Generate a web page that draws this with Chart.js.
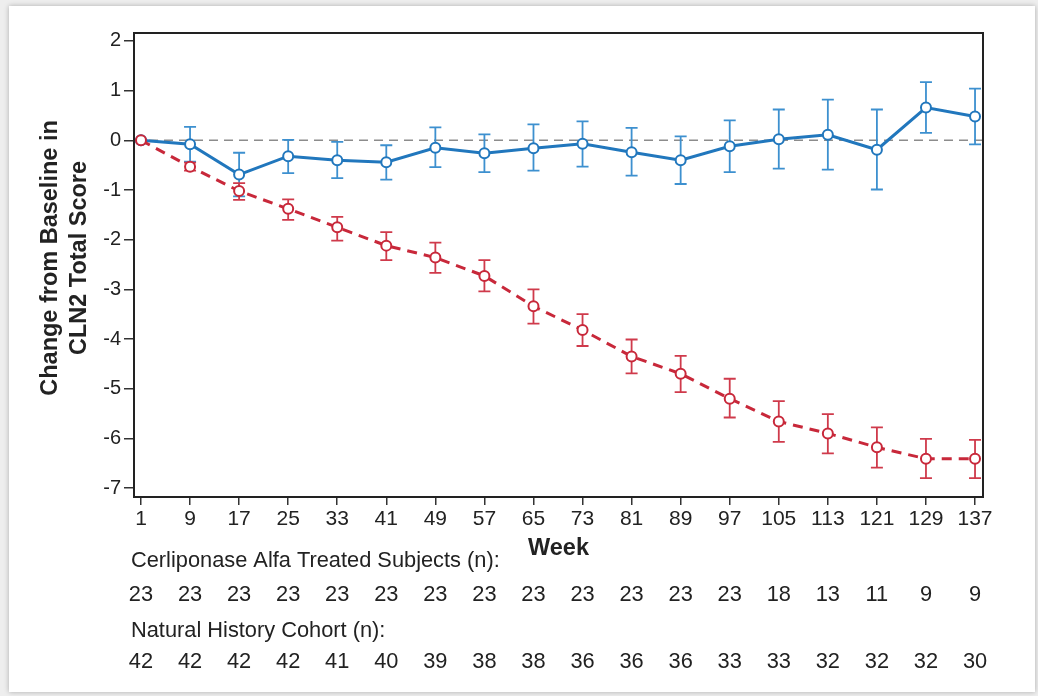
<!DOCTYPE html>
<html><head><meta charset="utf-8">
<script src="https://cdn.jsdelivr.net/npm/chart.js@4.4.1/dist/chart.umd.min.js"></script>
<style>
html,body{margin:0;padding:0;background:#eeeeee;width:1038px;height:696px;overflow:hidden;}
#card{position:absolute;left:9px;top:6px;width:1026px;height:686px;background:#fff;box-shadow:0 0 5px rgba(0,0,0,0.28);}
#wrap{position:absolute;left:0;top:0;width:1038px;height:696px;}
</style></head><body>
<div id="card"></div>
<div id="wrap"><canvas id="c" width="1038" height="696"></canvas></div>
<script>
const weeks = [1,9,17,25,33,41,49,57,65,73,81,89,97,105,113,121,129,137];
const yTickValues = [-7,-6,-5,-4,-3,-2,-1,0,1,2];

const treatedMean  = [0,-0.08,-0.69,-0.32,-0.40,-0.44,-0.15,-0.26,-0.16,-0.07,-0.24,-0.40,-0.12,0.02,0.11,-0.19,0.66,0.48];
const treatedLower = [null,-0.43,-1.13,-0.66,-0.76,-0.79,-0.54,-0.64,-0.61,-0.53,-0.71,-0.88,-0.64,-0.57,-0.59,-0.99,0.15,-0.08];
const treatedUpper = [null,0.27,-0.25,0.01,-0.03,-0.10,0.26,0.12,0.32,0.38,0.25,0.08,0.40,0.62,0.82,0.62,1.17,1.04];

const naturalMean  = [0,-0.53,-1.02,-1.38,-1.75,-2.12,-2.36,-2.73,-3.34,-3.82,-4.35,-4.70,-5.20,-5.66,-5.90,-6.18,-6.41,-6.41];
const naturalLower = [null,-0.61,-1.20,-1.60,-2.02,-2.41,-2.67,-3.04,-3.69,-4.14,-4.69,-5.07,-5.58,-6.07,-6.30,-6.59,-6.80,-6.80];
const naturalUpper = [null,-0.45,-0.86,-1.19,-1.54,-1.85,-2.06,-2.41,-3.00,-3.50,-4.01,-4.34,-4.80,-5.25,-5.51,-5.78,-6.01,-6.03];

const treatedN = [23,23,23,23,23,23,23,23,23,23,23,23,23,18,13,11,9,9];
const naturalN = [42,42,42,42,41,40,39,38,38,36,36,36,33,33,32,32,32,30];

const treatedLabel = 'Cerliponase Alfa Treated Subjects (n):';
const naturalLabel = 'Natural History Cohort (n):';
const yTitle = ['Change from Baseline in', 'CLN2 Total Score'];
const xTitle = 'Week';

const FONT = '"Liberation Sans", Arial, sans-serif';
const TXT = '#222222';

const toPts = (m) => weeks.map((w,i) => ({x: w, y: m[i]}));

const errorBars = {
  id: 'errorBars',
  beforeDatasetDraw(chart, args) {
    const ds = chart.data.datasets[args.index];
    if (!ds.errLow) return;
    const {ctx, scales: {x, y}} = chart;
    ctx.save();
    ctx.strokeStyle = ds.errColor;
    ctx.lineWidth = ds.errWidth;
    ctx.setLineDash([]);
    weeks.forEach((w, i) => {
      if (ds.errLow[i] == null) return;
      const px = x.getPixelForValue(w);
      const pl = y.getPixelForValue(ds.errLow[i]);
      const ph = y.getPixelForValue(ds.errHigh[i]);
      ctx.beginPath();
      ctx.moveTo(px, pl); ctx.lineTo(px, ph);
      ctx.moveTo(px - 6, pl); ctx.lineTo(px + 6, pl);
      ctx.moveTo(px - 6, ph); ctx.lineTo(px + 6, ph);
      ctx.stroke();
    });
    ctx.restore();
  }
};

const refLine = {
  id: 'refLine',
  beforeDatasetsDraw(chart) {
    const {ctx, chartArea: a, scales: {y}} = chart;
    const py = y.getPixelForValue(0);
    ctx.save();
    ctx.strokeStyle = '#8c8c8c';
    ctx.lineWidth = 1.5;
    ctx.setLineDash([9, 6]);
    ctx.beginPath(); ctx.moveTo(a.left, py); ctx.lineTo(a.right, py); ctx.stroke();
    ctx.restore();
  }
};

const frameAndTable = {
  id: 'frameAndTable',
  afterDraw(chart) {
    const {ctx, chartArea: a, scales: {x}} = chart;
    ctx.save();
    ctx.strokeStyle = '#222';
    ctx.lineWidth = 2;
    ctx.strokeRect(a.left, a.top, a.right - a.left, a.bottom - a.top);

    // y-axis title (two lines, rotated)
    ctx.fillStyle = TXT;
    ctx.font = 'bold 23.5px ' + FONT;
    ctx.textAlign = 'center';
    ctx.textBaseline = 'middle';
    const cy = (a.top + a.bottom) / 2 - 7;
    [51, 80].forEach((tx, i) => {
      ctx.save();
      ctx.translate(tx, cy);
      ctx.rotate(-Math.PI / 2);
      ctx.fillText(yTitle[i], 0, 0);
      ctx.restore();
    });

    // n-count table
    ctx.font = '21.8px ' + FONT;
    ctx.textAlign = 'left';
    ctx.fillText(treatedLabel, 131, 561);
    ctx.fillText(naturalLabel, 131, 631);
    ctx.textAlign = 'center';
    weeks.forEach((w, i) => {
      const px = x.getPixelForValue(w);
      ctx.fillText(String(treatedN[i]), px, 595);
      ctx.fillText(String(naturalN[i]), px, 662);
    });
    ctx.restore();
  }
};

new Chart(document.getElementById('c'), {
  type: 'scatter',
  data: {
    datasets: [
      {
        label: 'Natural History Cohort',
        data: toPts(naturalMean),
        showLine: true,
        borderColor: '#c8283a',
        borderWidth: 3,
        borderDash: [10, 7],
        pointRadius: 5,
        pointBorderWidth: 2,
        pointBackgroundColor: '#ffffff',
        pointBorderColor: '#c8283a',
        errLow: naturalLower, errHigh: naturalUpper,
        errColor: '#cf3a4b', errWidth: 1.8,
        order: 0
      },
      {
        label: 'Cerliponase Alfa Treated',
        data: toPts(treatedMean),
        showLine: true,
        borderColor: '#2177bd',
        borderWidth: 3,
        pointRadius: 5,
        pointBorderWidth: 2,
        pointBackgroundColor: '#ffffff',
        pointBorderColor: '#2177bd',
        errLow: treatedLower, errHigh: treatedUpper,
        errColor: '#3d90cf', errWidth: 1.8,
        order: 1
      }
    ]
  },
  options: {
    responsive: false,
    animation: false,
    devicePixelRatio: 1,
    layout: {padding: {left: 0, top: 33, right: 55, bottom: 129}},
    plugins: {legend: {display: false}, tooltip: {enabled: false}},
    scales: {
      x: {
        type: 'linear',
        min: -0.14, max: 138.3,
        afterBuildTicks: (s) => { s.ticks = weeks.map(v => ({value: v})); },
        afterFit: (s) => { s.height = 70; },
        ticks: {color: TXT, font: {size: 21, family: FONT}, padding: 2, maxRotation: 0, autoSkip: false},
        grid: {display: true, drawOnChartArea: false, drawTicks: true, tickLength: 8, color: '#333', lineWidth: 1.5},
        border: {display: true, color: '#222', width: 2},
        title: {display: true, text: xTitle, color: TXT, font: {size: 23.5, weight: 'bold', family: FONT}, padding: {top: 0, bottom: 4}}
      },
      y: {
        min: -7.18, max: 2.16,
        afterBuildTicks: (s) => { s.ticks = yTickValues.map(v => ({value: v})); },
        afterFit: (s) => { s.width = 134; },
        ticks: {color: TXT, font: {size: 20, family: FONT}, padding: 3},
        grid: {display: true, drawOnChartArea: false, drawTicks: true, tickLength: 10, color: '#333', lineWidth: 1.5},
        border: {display: true, color: '#222', width: 2},
        title: {display: false}
      }
    }
  },
  plugins: [errorBars, refLine, frameAndTable]
});
</script>
</body></html>
